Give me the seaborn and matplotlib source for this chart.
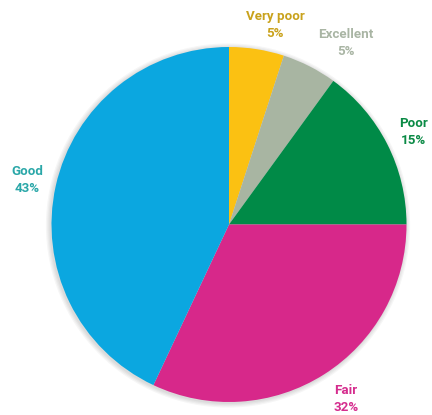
import matplotlib
matplotlib.use("Agg")
import matplotlib.pyplot as plt
import seaborn as sns
from matplotlib.patches import Circle

categories = ["Very poor", "Excellent", "Poor", "Fair", "Good"]
values = [5, 5, 15, 32, 43]
slice_colors = ["#FBC112", "#A8B5A2", "#008A47", "#D7288A", "#0BA7E0"]
label_colors = ["#C9A21C", "#A9B5A4", "#0A8A45", "#D52D8E", "#2AA7A8"]

# label anchor positions (axes pixel coordinates, layout only)
label_pos = [(275, 390), (346, 372), (414, 283), (346, 16), (27, 235)]

sns.set_theme(style="white")
plt.rcParams["font.family"] = ["Roboto", "DejaVu Sans"]

fig = plt.figure(figsize=(4.32, 4.15), dpi=100)
ax = fig.add_axes([0, 0, 1, 1])

cx, cy, r = 229, 190.5, 177.5

# soft shadow
for i, a in enumerate([0.035, 0.035, 0.035, 0.035]):
    ax.add_patch(Circle((cx - 1, cy - 1), r + 1 + i * 1.2, color="black", alpha=a, lw=0, zorder=0))

labels = [f"{c}\n{v}%" for c, v in zip(categories, values)]
wedges, texts = ax.pie(values, colors=slice_colors, startangle=90, counterclock=False,
                       center=(cx, cy), radius=r, labels=labels, labeldistance=1.165,
                       wedgeprops=dict(linewidth=0), frame=True)
for t, col, pos in zip(texts, label_colors, label_pos):
    t.set_color(col)
    t.set_fontweight("bold")
    t.set_fontsize(9.6)
    t.set_linespacing(1.32)
    t.set_ha("center")
    t.set_va("center")
    t.set_multialignment("center")
    t.set_position(pos)

ax.set_xlim(0, 432)
ax.set_ylim(0, 415)
ax.set_aspect("equal")
ax.axis("off")
fig.savefig("out.png", dpi=100)
